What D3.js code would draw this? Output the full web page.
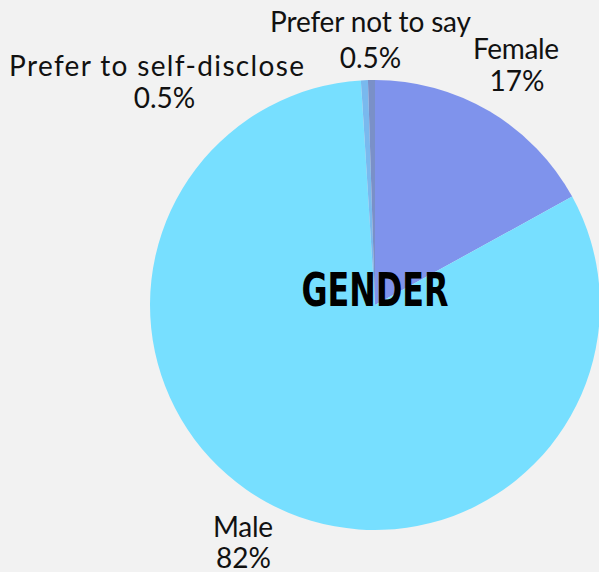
<!DOCTYPE html>
<html>
<head>
<meta charset="utf-8">
<script src="https://cdn.jsdelivr.net/npm/d3@7"></script>
<style>
  html, body { margin: 0; padding: 0; background: #f2f2f2; }
  svg { display: block; }
</style>
</head>
<body>
<div id="chart"></div>
<script>
// data
const categories = ['Female', 'Male', 'Prefer to self-disclose', 'Prefer not to say'];
const shares = [17, 82, 0.5, 0.5];
const shareLabels = ['17%', '82%', '0.5%', '0.5%'];
const sliceColors = ['#7f93ec', '#77dfff', '#79b9ee', '#7a90c8'];

const width = 599, height = 572;
const cx = 375, cy = 305, radius = 225;

const svg = d3.select('#chart').append('svg')
    .attr('width', width)
    .attr('height', height);

svg.append('rect')
    .attr('width', width)
    .attr('height', height)
    .attr('fill', '#f2f2f2');

const items = categories.map((c, i) => ({name: c, value: shares[i], label: shareLabels[i], color: sliceColors[i]}));

const pie = d3.pie().sort(null).value(d => d.value);
const arc = d3.arc().innerRadius(0).outerRadius(radius);
const arcs = pie(items);

const g = svg.append('g').attr('transform', 'translate(' + cx + ',' + cy + ')');

g.selectAll('.slice')
    .data(arcs)
    .join('path')
    .attr('class', 'slice')
    .attr('d', arc)
    .attr('fill', d => d.data.color);

// label layout (relative to centre): name line x,y + percent line x,y, name width
const labelPos = {
    'Female': {nx: 141, ny: -246, px: 142, py: -214, w: 86},
    'Male': {nx: -132, ny: 232, px: -131.5, py: 263, w: 60},
    'Prefer to self-disclose': {nx: -218.5, ny: -229, px: -210.5, py: -197, w: 295},
    'Prefer not to say': {nx: -4.5, ny: -273, px: -4.5, py: -237, w: 201}
};

const labels = g.selectAll('.lbl')
    .data(arcs)
    .join('g')
    .attr('class', 'lbl')
    .attr('font-family', 'Lato, sans-serif')
    .attr('font-size', 28)
    .attr('fill', '#111')
    .attr('text-anchor', 'middle');

labels.append('text')
    .attr('x', d => labelPos[d.data.name].nx)
    .attr('y', d => labelPos[d.data.name].ny)
    .attr('textLength', d => labelPos[d.data.name].w)
    .attr('lengthAdjust', 'spacing')
    .text(d => d.data.name);

labels.append('text')
    .attr('x', d => labelPos[d.data.name].px)
    .attr('y', d => labelPos[d.data.name].py)
    .text(d => d.data.label);

g.append('text')
    .attr('x', 0)
    .attr('y', 1)
    .attr('text-anchor', 'middle')
    .attr('font-family', '"DejaVu Sans Condensed", "DejaVu Sans", sans-serif')
    .attr('font-weight', 'bold')
    .attr('font-size', 47)
    .attr('textLength', 147)
    .attr('lengthAdjust', 'spacingAndGlyphs')
    .attr('fill', '#000')
    .text('GENDER');
</script>
</body>
</html>
